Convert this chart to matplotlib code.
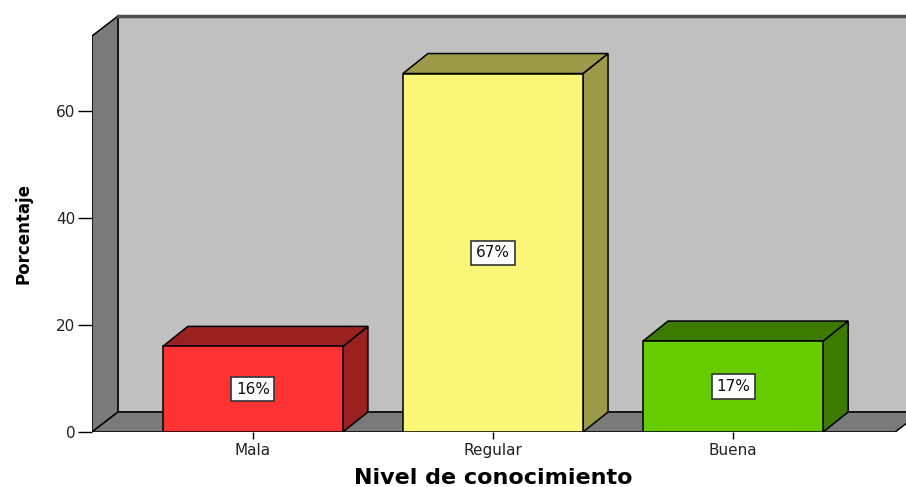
import matplotlib.pyplot as plt
from matplotlib.patches import Polygon, Rectangle

# Data
categories = ["Mala", "Regular", "Buena"]
percentages = [16, 67, 17]
bar_labels = ["16%", "67%", "17%"]
front_colors = ["#FF3333", "#FAF677", "#66CC00"]
shade_colors = ["#9B2121", "#9C9A48", "#3D7A00"]

plt.rcParams["font.family"] = ["DejaVu Sans"]

W, H = 906, 487
fig = plt.figure(figsize=(W / 100, H / 100), dpi=100)
# axes box in pixels: left 92, right 906, bottom 432, top 16
ax = fig.add_axes([92 / W, (H - 432) / H, (906 - 92) / W, (432 - 16) / H])

x_lo, x_hi = -0.67, 2.72
y_lo, y_hi = 0, 77.75
ax.set_xlim(x_lo, x_hi)
ax.set_ylim(y_lo, y_hi)

# depth offset of the pseudo-3D look (in data units)
px_x = (906 - 92) / (x_hi - x_lo)
px_y = (432 - 16) / (y_hi - y_lo)
ddx = 26 / px_x
ddy = 20 / px_y
wall_top = y_hi - ddy
floor_right = 2.675

edge = dict(edgecolor="black", linewidth=1.1, joinstyle="miter")

# back wall
ax.add_patch(Rectangle((x_lo + ddx, ddy), x_hi + 1 - x_lo, wall_top,
                       facecolor="#C0C0C0", edgecolor="#4A4A4A", linewidth=1.2, clip_on=True))
ax.plot([x_lo + ddx, x_hi], [y_hi, y_hi], color="#505050", lw=2.5, clip_on=False)
# left wall
ax.add_patch(Polygon([(x_lo, 0), (x_lo, wall_top), (x_lo + ddx, y_hi), (x_lo + ddx, ddy)],
                     facecolor="#7A7A7A", **edge))
# floor
ax.add_patch(Polygon([(x_lo, 0), (floor_right, 0), (floor_right + ddx, ddy), (x_lo + ddx, ddy)],
                     facecolor="#7A7A7A", **edge))

half = 0.375
bdx = 25 / px_x
for i, (v, fc, sc, lab) in enumerate(zip(percentages, front_colors, shade_colors, bar_labels)):
    l, r = i - half, i + half
    ax.add_patch(Polygon([(r, 0), (r + bdx, ddy), (r + bdx, v + ddy), (r, v)], facecolor=sc, **edge))
    ax.add_patch(Polygon([(l, v), (r, v), (r + bdx, v + ddy), (l + bdx, v + ddy)], facecolor=sc, **edge))
    ax.add_patch(Rectangle((l, 0), 2 * half, v, facecolor=fc, **edge))
    ax.text(i, v / 2, lab, ha="center", va="center", fontsize=11, color="#111111",
            bbox=dict(boxstyle="square,pad=0.3", facecolor="white", edgecolor="#333333", linewidth=1.2))

for s in ax.spines.values():
    s.set_visible(False)

ax.set_yticks([0, 20, 40, 60])
ax.set_xticks(range(len(categories)))
ax.set_xticklabels(categories)
ax.tick_params(axis="y", length=10, width=1, pad=2, labelsize=11, labelcolor="#222222")
ax.tick_params(axis="x", length=5, width=1, pad=3, labelsize=11, labelcolor="#222222")
ax.set_facecolor("none")

ax.set_ylabel("Porcentaje", fontsize=12, fontweight="bold", va="center")
ax.yaxis.set_label_coords((23 - 92) / (906 - 92), (432 - 234) / (432 - 16))
ax.set_xlabel("Nivel de conocimiento", fontsize=16, fontweight="bold", va="center")
ax.xaxis.set_label_coords((493 - 92) / (906 - 92), (432 - 478) / (432 - 16))

fig.savefig("out.png", dpi=100)
